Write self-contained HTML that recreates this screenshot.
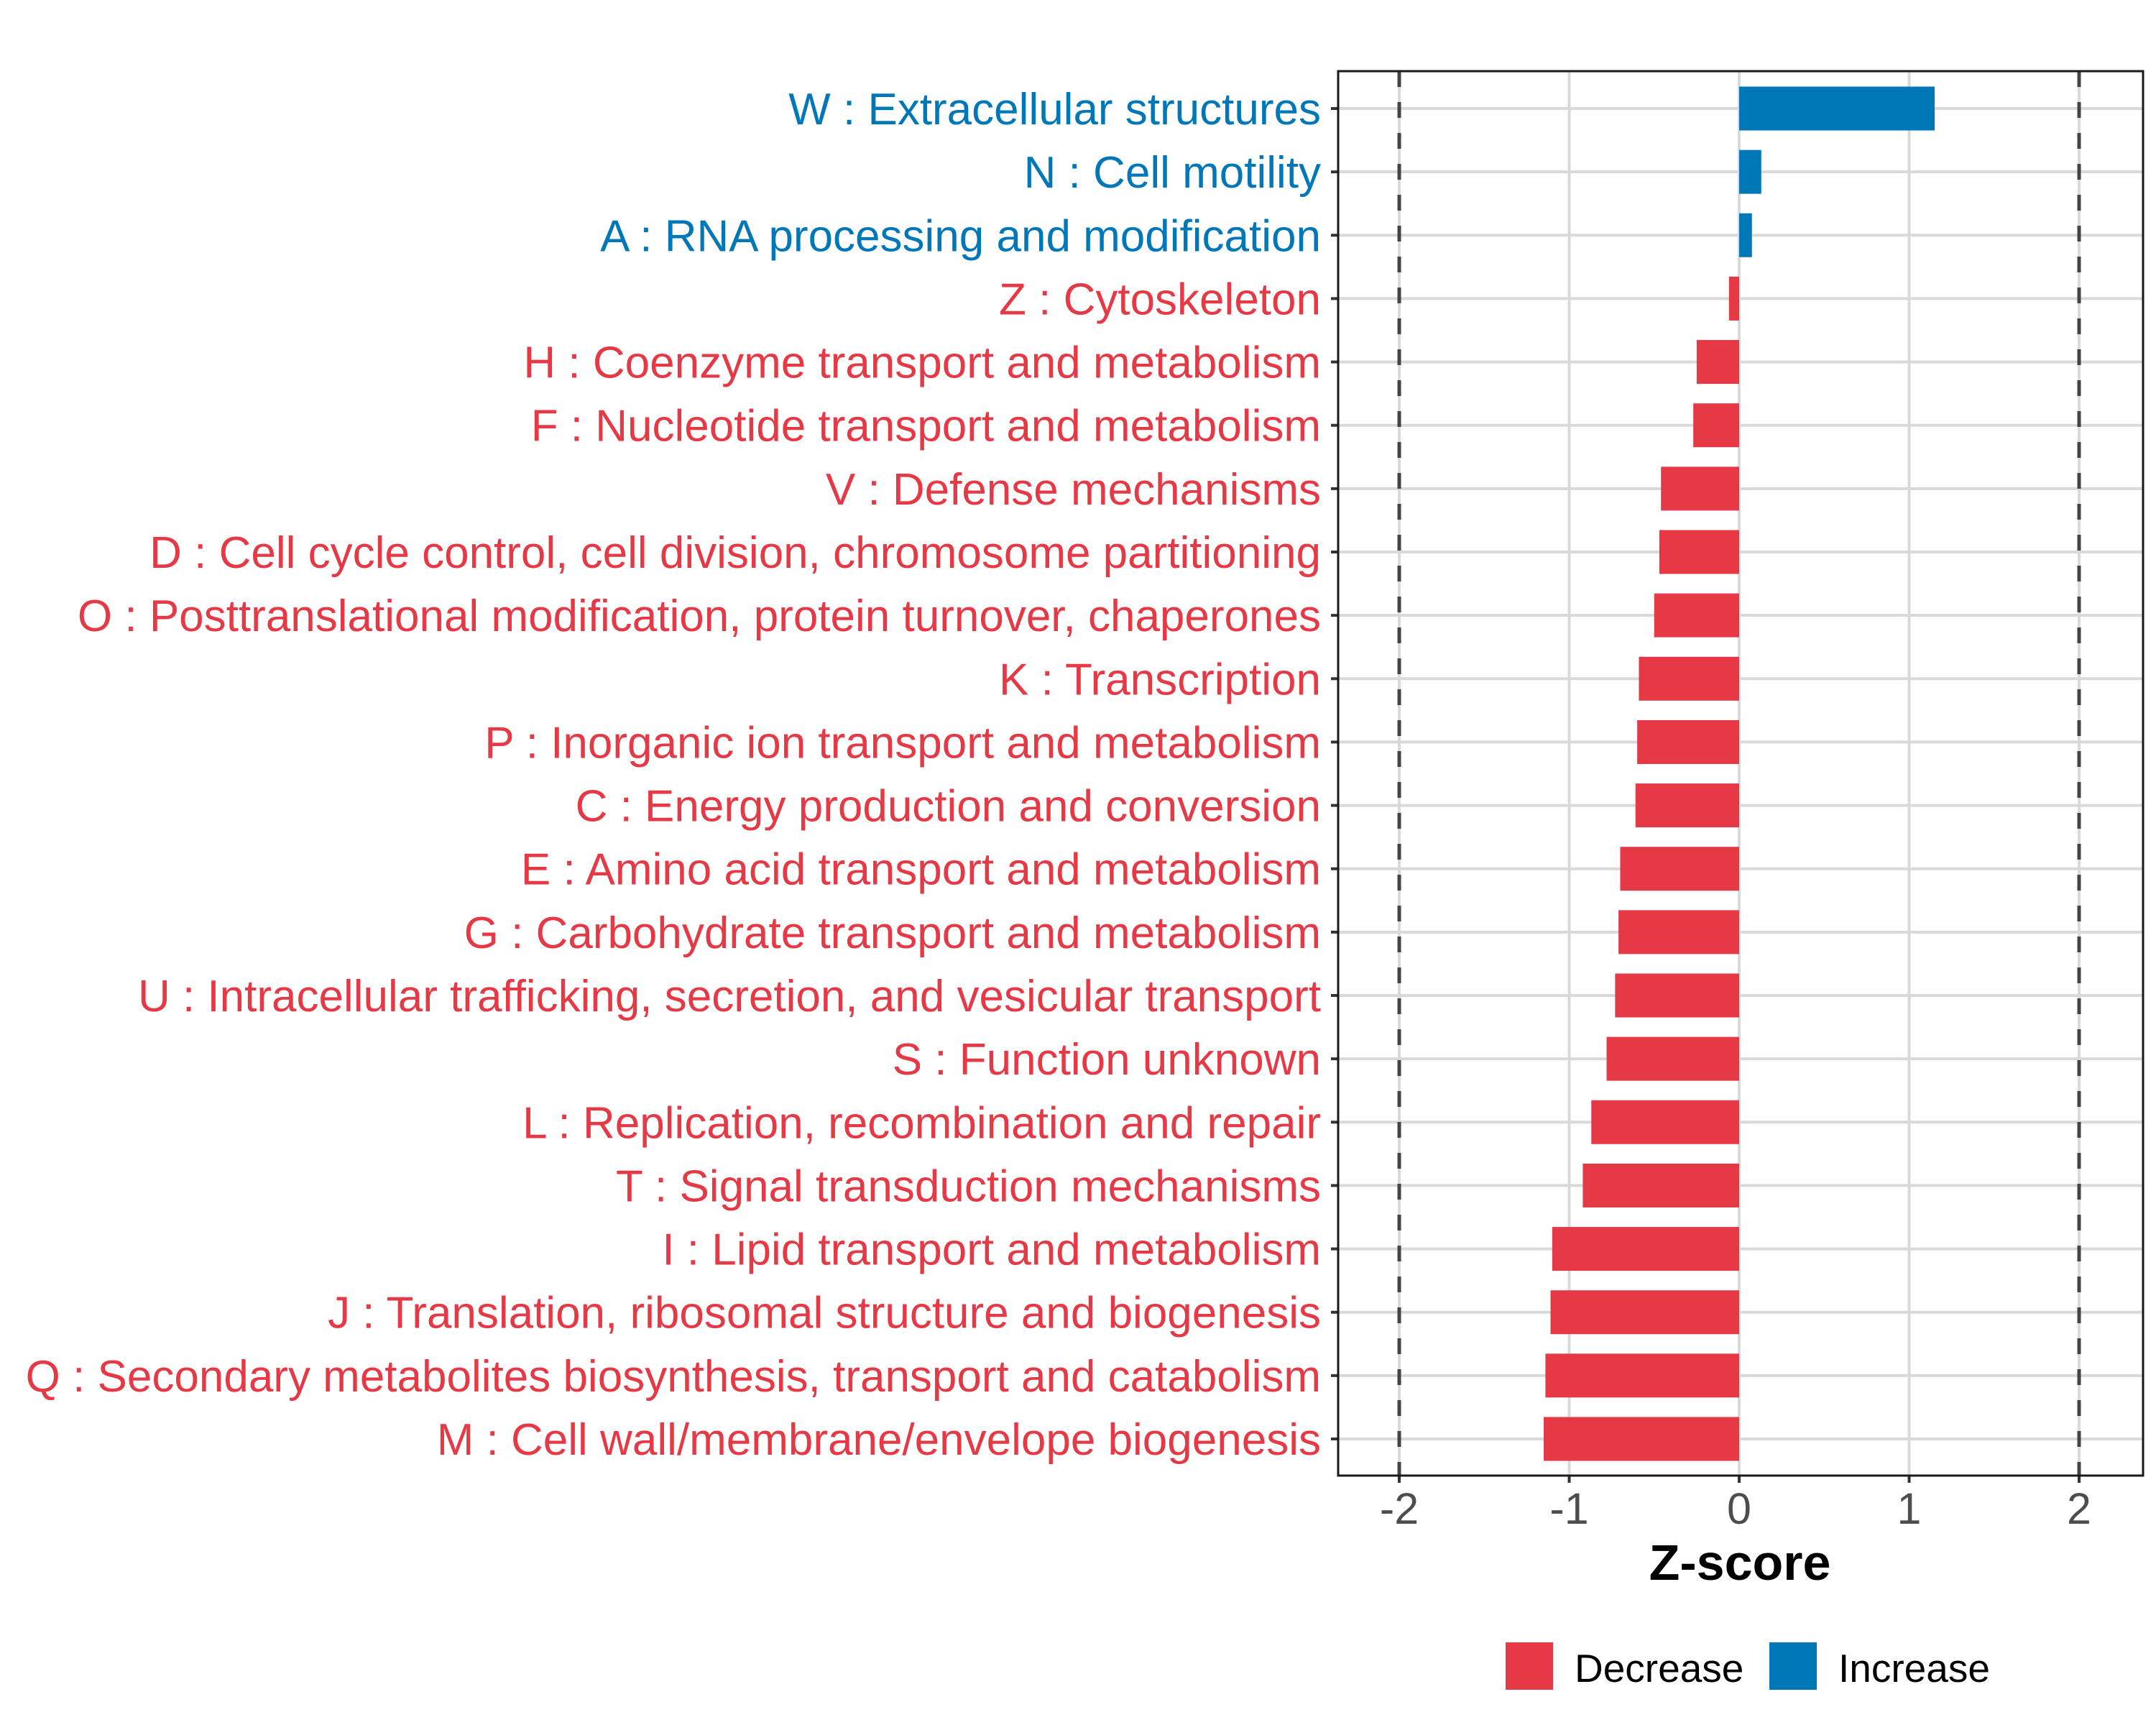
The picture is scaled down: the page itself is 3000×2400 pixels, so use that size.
<!DOCTYPE html>
<html><head><meta charset="utf-8"><style>
html,body{margin:0;padding:0;background:#fff;}
svg{display:block;font-family:"Liberation Sans",Arial,sans-serif;}
</style></head><body>
<svg id="chart" width="3000" height="2400" viewBox="0 0 3000 2400" xmlns="http://www.w3.org/2000/svg">
<rect width="3000" height="2400" fill="#fff"/>
<g id="grid"></g>
<g id="bars"></g>
<g id="ylabels"></g>
<g id="xaxis"></g>
<rect x="1862" y="99" width="1120" height="1954" fill="none" stroke="#1a1a1a" stroke-width="3"/>
<text x="2421" y="2198" text-anchor="middle" font-size="70" font-weight="bold" fill="#000">Z-score</text>
<g>
<rect x="2095" y="2285" width="66" height="66" fill="#E63946"/>
<text x="2191" y="2340" font-size="55" fill="#000">Decrease</text>
<rect x="2462" y="2285" width="66" height="66" fill="#0077B6"/>
<text x="2558" y="2340" font-size="55" fill="#000">Increase</text>
</g>
</svg>
<script>
const categories = ["W : Extracellular structures","N : Cell motility","A : RNA processing and modification","Z : Cytoskeleton","H : Coenzyme transport and metabolism","F : Nucleotide transport and metabolism","V : Defense mechanisms","D : Cell cycle control, cell division, chromosome partitioning","O : Posttranslational modification, protein turnover, chaperones","K : Transcription","P : Inorganic ion transport and metabolism","C : Energy production and conversion","E : Amino acid transport and metabolism","G : Carbohydrate transport and metabolism","U : Intracellular trafficking, secretion, and vesicular transport","S : Function unknown","L : Replication, recombination and repair","T : Signal transduction mechanisms","I : Lipid transport and metabolism","J : Translation, ribosomal structure and biogenesis","Q : Secondary metabolites biosynthesis, transport and catabolism","M : Cell wall/membrane/envelope biogenesis"];
const zscores = [1.15,0.13,0.075,-0.06,-0.25,-0.27,-0.46,-0.47,-0.50,-0.59,-0.60,-0.61,-0.70,-0.71,-0.73,-0.78,-0.87,-0.92,-1.10,-1.11,-1.14,-1.15];
const xTicks = [-2,-1,0,1,2];
const xTickLabels = ["-2","-1","0","1","2"];
const thresholds = [-2,2];

const NS="http://www.w3.org/2000/svg";
const PL=1862, PR=2982, PT=99, PB=2053;
const X0=2420, UNIT=236.5;
function xs(v){return X0+v*UNIT;}
const ROW0=151, ROWSTEP=(2002-151)/21;
function ys(i){return ROW0+i*ROWSTEP;}
function mk(tag,attrs,parent){const e=document.createElementNS(NS,tag);for(const k in attrs)e.setAttribute(k,attrs[k]);parent.appendChild(e);return e;}
const grid=document.getElementById('grid'), bars=document.getElementById('bars'), yl=document.getElementById('ylabels'), xa=document.getElementById('xaxis');
const RED="#E63946", BLUE="#0077B6";

xTicks.forEach((t,i)=>{
  const l=mk('line',{x1:xs(t),x2:xs(t),y1:PT,y2:PB,stroke:"#d9d9d9","stroke-width":4},grid);
  
  
  const tk=mk('line',{x1:xs(t),x2:xs(t),y1:PB,y2:PB+10,stroke:"#333","stroke-width":4},xa);
  
  
  const tx=mk('text',{x:xs(t),y:2120,"text-anchor":"middle","font-size":61,fill:"#4d4d4d"},xa);
  tx.textContent=xTickLabels[i];
  
  
});
categories.forEach((c,i)=>{
  const y=ys(i);
  const g=mk('line',{x1:PL,x2:PR,y1:y,y2:y,stroke:"#d9d9d9","stroke-width":4},grid);
  
  
  const v=zscores[i];
  const col=v>=0?BLUE:RED;
  const x1=Math.min(xs(0),xs(v)), w=Math.abs(xs(v)-xs(0));
  const r=mk('rect',{x:x1,y:y-30.5,width:w,height:61,fill:col},bars);
  
  
  const tk=mk('line',{x1:PL-10,x2:PL,y1:y,y2:y,stroke:"#333","stroke-width":4},yl);
  
  
  const t=mk('text',{x:1838,y:y+22,"text-anchor":"end","font-size":62,fill:col},yl);
  t.textContent=c;
  
  
});
thresholds.forEach(t=>{
  const l=mk('line',{x1:xs(t),x2:xs(t),y1:PT,y2:PB,stroke:"#444","stroke-width":5,"stroke-dasharray":"22 21"},bars);
  
  
});
</script>
</body></html>
